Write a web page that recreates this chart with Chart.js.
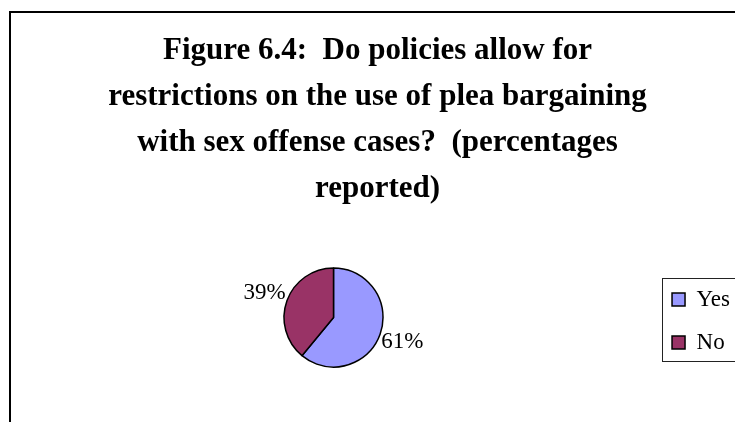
<!DOCTYPE html>
<html>
<head>
<meta charset="utf-8">
<script src="https://cdn.jsdelivr.net/npm/chart.js@4"></script>
<style>
  html, body { margin: 0; padding: 0; background: #fff; overflow: hidden; }
  #wrap { position: relative; width: 780px; height: 460px; }
</style>
</head>
<body>
<div id="wrap"><canvas id="c" width="780" height="460"></canvas></div>
<script>
// Survey answers and their shares (percent)
const categories = ['Yes', 'No'];
const shares = [61, 39];
const sliceColors = ['#9999FF', '#993366'];
const titleLines = [
  'Figure 6.4:  Do policies allow for',
  'restrictions on the use of plea bargaining',
  'with sex offense cases?  (percentages',
  'reported)'
];

const SERIF = '"Liberation Serif", "Times New Roman", serif';
const LEGEND_BOX = 13;

// Outer frame around the whole figure
const framePlugin = {
  id: 'frame',
  beforeDraw(chart) {
    const ctx = chart.ctx;
    ctx.save();
    ctx.fillStyle = '#fff';
    ctx.fillRect(0, 0, chart.width, chart.height);
    ctx.strokeStyle = '#000';
    ctx.lineWidth = 2;
    ctx.strokeRect(10, 12, chart.width, chart.height);
    ctx.restore();
  }
};

// Box drawn around the legend entries
const legendBoxPlugin = {
  id: 'legendBox',
  afterDraw(chart) {
    const lg = chart.legend;
    if (!lg || !lg.legendHitBoxes || !lg.legendHitBoxes.length) return;
    const hb = lg.legendHitBoxes;
    const first = hb[0], last = hb[hb.length - 1];
    const firstSq = first.top + (first.height - LEGEND_BOX) / 2;
    const lastSq = last.top + (last.height - LEGEND_BOX) / 2 + LEGEND_BOX;
    const ctx = chart.ctx;
    ctx.save();
    ctx.strokeStyle = '#222';
    ctx.lineWidth = 1;
    const left = Math.round(first.left - 10) + 0.5;
    const top = Math.round(firstSq - 15) + 0.5;
    const bottom = Math.round(lastSq + 12) + 0.5;
    ctx.strokeRect(left, top, chart.width, bottom - top);
    ctx.restore();
  }
};

// Percentage labels placed just outside each slice
const sliceLabelPlugin = {
  id: 'sliceLabels',
  afterDatasetsDraw(chart) {
    const meta = chart.getDatasetMeta(0);
    const ds = chart.data.datasets[0];
    const ctx = chart.ctx;
    ctx.save();
    ctx.font = '23px ' + SERIF;
    ctx.fillStyle = '#000';
    ctx.textAlign = 'center';
    ctx.textBaseline = 'middle';
    meta.data.forEach((arc, i) => {
      const p = arc.getProps(['x', 'y', 'startAngle', 'endAngle', 'outerRadius'], true);
      const mid = (p.startAngle + p.endAngle) / 2;
      const d = p.outerRadius * 1.48;
      ctx.fillText(ds.data[i] + '%', p.x + Math.cos(mid) * d, p.y + Math.sin(mid) * d);
    });
    ctx.restore();
  }
};

new Chart(document.getElementById('c'), {
  type: 'pie',
  data: {
    labels: categories,
    datasets: [{
      data: shares,
      backgroundColor: sliceColors,
      borderColor: '#000',
      borderWidth: 1.5,
      radius: 49.5
    }]
  },
  options: {
    responsive: false,
    animation: false,
    events: [],
    layout: { padding: { left: 15, right: 40, top: 0, bottom: 86 } },
    plugins: {
      title: {
        display: true,
        text: titleLines,
        color: '#000',
        font: { family: SERIF, size: 31, weight: 'bold', lineHeight: 1.484 },
        padding: { top: 28, bottom: 49 }
      },
      legend: {
        position: 'right',
        fullSize: false,
        align: 'end',
        labels: {
          color: '#000',
          font: { family: SERIF, size: 23 },
          boxWidth: LEGEND_BOX,
          boxHeight: LEGEND_BOX,
          padding: 20,
          generateLabels(chart) {
            const ds = chart.data.datasets[0];
            return chart.data.labels.map((l, i) => ({
              text: l,
              fillStyle: ds.backgroundColor[i],
              strokeStyle: '#000',
              lineWidth: 1.5,
              fontColor: '#000',
              index: i
            }));
          }
        }
      },
      tooltip: { enabled: false }
    }
  },
  plugins: [framePlugin, legendBoxPlugin, sliceLabelPlugin]
});
</script>
</body>
</html>
